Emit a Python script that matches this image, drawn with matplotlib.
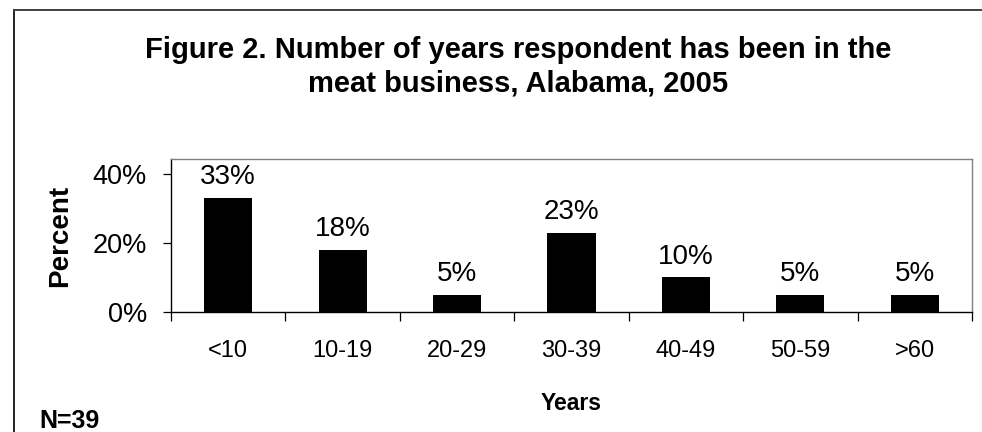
import matplotlib
matplotlib.use("Agg")
import matplotlib.pyplot as plt
from matplotlib.lines import Line2D

plt.rcParams['font.family'] = ['Liberation Sans', 'DejaVu Sans']

# Years in the meat business, Alabama 2005 (N=39)
categories = ['<10', '10-19', '20-29', '30-39', '40-49', '50-59', '>60']
percents = [33, 18, 5, 23, 10, 5, 5]
y_ticks = [0, 20, 40]

W, H = 982, 432
fig = plt.figure(figsize=(W / 100, H / 100), dpi=100)
ax = fig.add_axes([171 / W, 1 - 312 / H, (972 - 171) / W, (312 - 159) / H])

x = list(range(len(categories)))
ax.bar(x, percents, width=0.42, color='black')

for xi, v in zip(x, percents):
    ax.annotate(f'{v}%', (xi, v), xytext=(0, 10), textcoords='offset points',
                ha='center', va='baseline', fontsize=20)

ax.set_xlim(-0.5, len(categories) - 0.5)
ax.set_ylim(0, 44.3)

ax.set_yticks(y_ticks)
ax.set_yticklabels([f'{t}%' for t in y_ticks], fontsize=19.5)
ax.tick_params(axis='y', direction='out', length=5.8, width=0.9, pad=11.5)

# tick marks at category boundaries, labels centred between them
ax.set_xticks([i - 0.5 for i in range(len(categories) + 1)])
ax.set_xticklabels([])
ax.set_xticks(x, minor=True)
ax.set_xticklabels(categories, minor=True, fontsize=17)
ax.tick_params(axis='x', which='major', direction='out', length=6.5, width=0.9)
ax.tick_params(axis='x', which='minor', length=0, pad=20)

for side in ['left', 'bottom']:
    ax.spines[side].set_color('black')
    ax.spines[side].set_linewidth(1.0)
for side in ['top', 'right']:
    ax.spines[side].set_color('#808080')
    ax.spines[side].set_linewidth(1.0)

fig.text(60 / W, 1 - 236 / H, 'Percent', rotation=90, ha='center', va='center',
         fontsize=20, fontweight='bold')
fig.text(571 / W, 1 - 410 / H, 'Years', ha='center', va='baseline',
         fontsize=16.5, fontweight='bold')
fig.text(39 / W, 1 - 428 / H, 'N=39', ha='left', va='baseline',
         fontsize=18, fontweight='bold')

title_lines = ['Figure 2. Number of years respondent has been in the',
               'meat business, Alabama, 2005']
for line, base in zip(title_lines, [58, 92]):
    fig.text(518 / W, 1 - base / H, line, ha='center', va='baseline',
             fontsize=21, fontweight='bold')

# outer chart frame, left and top edges
fig.add_artist(Line2D([14 / W, 14 / W], [0, 1 - 10 / H], color='black', lw=1.2,
                      transform=fig.transFigure))
fig.add_artist(Line2D([14 / W, 1], [1 - 10 / H, 1 - 10 / H], color='#404040', lw=1.4,
                      transform=fig.transFigure))

fig.savefig('out.png', dpi=100)
